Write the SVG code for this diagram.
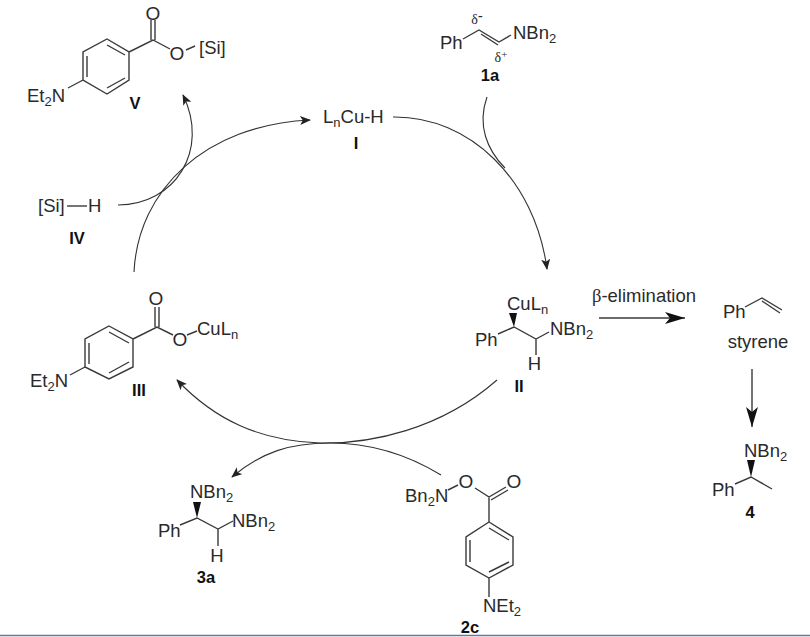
<svg xmlns="http://www.w3.org/2000/svg" width="810" height="637" viewBox="0 0 810 637">
<defs>
<marker id="ah" viewBox="0 0 12 10" refX="11" refY="5" markerWidth="11" markerHeight="9" markerUnits="userSpaceOnUse" orient="auto"><path d="M0 0L12 5L0 10L3 5Z" fill="#222"/></marker>
<marker id="ahb" viewBox="0 0 20 12" refX="20" refY="6" markerWidth="20" markerHeight="12" markerUnits="userSpaceOnUse" orient="auto"><path d="M0 0L20 6L0 12L5 6Z" fill="#111"/></marker>
</defs>
<style>
text{font-family:"Liberation Sans",Arial,sans-serif;font-size:18.5px;fill:#2a2a2a}
.b{font-weight:bold;font-size:16.5px;fill:#111}
.g{font-family:"Liberation Serif","DejaVu Serif",serif}
.s{font-size:13px}
.o{font-size:19px}
.bond{stroke:#3a3a3a;stroke-width:1.4;fill:none}
.arc{stroke:#333;stroke-width:1.1;fill:none}
.m{text-anchor:middle}
</style>
<rect width="810" height="637" fill="#fff"/>
<g id="connectors">
<path class="arc" d="M393 117C470 116 535 180 547 269" marker-end="url(#ah)"/>
<path class="arc" d="M487 97C477 125 487 150 505 168"/>
<path class="arc" d="M134 272C138 190 205 125 310 120" marker-end="url(#ah)"/>
<path class="arc" d="M118 205C175 205 210 150 183 95" marker-end="url(#ah)"/>
<path class="arc" d="M497 380C440 430 370 444 320 443C260 441 215 420 177 380" marker-end="url(#ah)"/>
<path class="arc" d="M441 475C400 450 360 443 330 443C290 443 262 452 232 477" marker-end="url(#ah)"/>
<path class="bond" d="M599 318H685" marker-end="url(#ahb)"/>
<path class="bond" d="M752 369V427" marker-end="url(#ahb)"/>
</g>
<g id="V">
<path class="bond" d="M107 39L129 52V80L107 94L83 80V52ZM87 56V77M107 45L125 55M107 88L125 78M129 52L153 40L170 49M151 40V20M155 40V20M186 50L195 46M68 88L83 80"/>
<text x="153" y="20" class="m o">O</text>
<text x="177" y="60" class="m o">O</text>
<text x="199" y="54">[Si]</text>
<text x="27" y="102">Et<tspan class="s" dy="4">2</tspan><tspan dy="-4">N</tspan></text>
<text x="135" y="109" class="b m">V</text>
</g>
<g id="I">
<text x="323" y="123">L<tspan class="s" dy="4">n</tspan><tspan dy="-4">Cu-H</tspan></text>
<text x="356" y="149" class="b m">I</text>
</g>
<g id="reagent-1a">
<path class="bond" d="M463 39L479 30L499 42L511 35M481 34L498 45"/>
<text x="440" y="49">Ph</text>
<text x="513" y="39">NBn<tspan class="s" dy="4">2</tspan></text>
<text x="477" y="24" class="g m" style="font-size:14px">δ<tspan dy="-4" style="font-weight:bold">-</tspan></text>
<text x="501" y="62" class="g m" style="font-size:14px">δ<tspan dy="-4" class="s" style="font-size:11px">+</tspan></text>
<text x="490" y="81" class="b m">1a</text>
</g>
<g id="IV">
<path class="bond" d="M67 206H87"/>
<text x="38" y="212">[Si]</text>
<text x="88" y="212">H</text>
<text x="77" y="244" class="b m">IV</text>
</g>
<g id="III">
<path class="bond" d="M109 326L133 339V367L109 379L85 367V339ZM89 343V364M109 332L129 343M109 373L129 362M133 339L157 327L173 335M155 327V307M159 327V307M187 335L197 331M70 375L85 367"/>
<text x="156" y="305" class="m o">O</text>
<text x="180" y="346" class="m o">O</text>
<text x="197" y="335">CuL<tspan class="s" dy="4">n</tspan></text>
<text x="30" y="387">Et<tspan class="s" dy="4">2</tspan><tspan dy="-4">N</tspan></text>
<text x="139" y="396" class="b m">III</text>
</g>
<g id="II">
<path class="bond" d="M498 334L514 327L536 339L549 332M536 339V355"/>
<path d="M514 327L509 313H517Z" fill="#111"/>
<text x="475" y="346">Ph</text>
<text x="507" y="310">CuL<tspan class="s" dy="4">n</tspan></text>
<text x="550" y="335">NBn<tspan class="s" dy="4">2</tspan></text>
<text x="534.500" y="370" class="m">H</text>
<text x="519" y="392" class="b m">II</text>
</g>
<g id="beta-label">
<text x="592" y="302"><tspan class="g">β</tspan>-elimination</text>
</g>
<g id="styrene">
<path class="bond" d="M745 307L762 298L782 310M762 301L780 313"/>
<text x="723" y="318">Ph</text>
<text x="758" y="348" class="m">styrene</text>
</g>
<g id="product-4">
<path class="bond" d="M735 484L751 477L772 489"/>
<path d="M751 477L747 460H755Z" fill="#111"/>
<text x="712" y="496">Ph</text>
<text x="744" y="457">NBn<tspan class="s" dy="4">2</tspan></text>
<text x="750" y="518" class="b m">4</text>
</g>
<g id="product-3a">
<path class="bond" d="M180 525L197 518L218 529L233 521M218 529V546"/>
<path d="M197 518L193 502H201Z" fill="#111"/>
<text x="158" y="537">Ph</text>
<text x="190" y="498">NBn<tspan class="s" dy="4">2</tspan></text>
<text x="232" y="527">NBn<tspan class="s" dy="4">2</tspan></text>
<text x="217" y="562" class="m">H</text>
<text x="206" y="583" class="b m">3a</text>
</g>
<g id="reagent-2c">
<path class="bond" d="M448 490L458 485M475 488L489 497L506 487M491 500L508 490M489 497V522M489 522L513 537V565L489 578L466 565V537ZM470 540V562M489 528L509 540M489 572L509 562M489 578V597"/>
<text x="466" y="488" class="m o">O</text>
<text x="514" y="488" class="m o">O</text>
<text x="405" y="502">Bn<tspan class="s" dy="4">2</tspan><tspan dy="-4">N</tspan></text>
<text x="483" y="612">NEt<tspan class="s" dy="4">2</tspan></text>
<text x="470" y="633" class="b m">2c</text>
</g>
<path d="M0 635.5H810" stroke="#5b7bad" stroke-width="1.5"/>
</svg>
